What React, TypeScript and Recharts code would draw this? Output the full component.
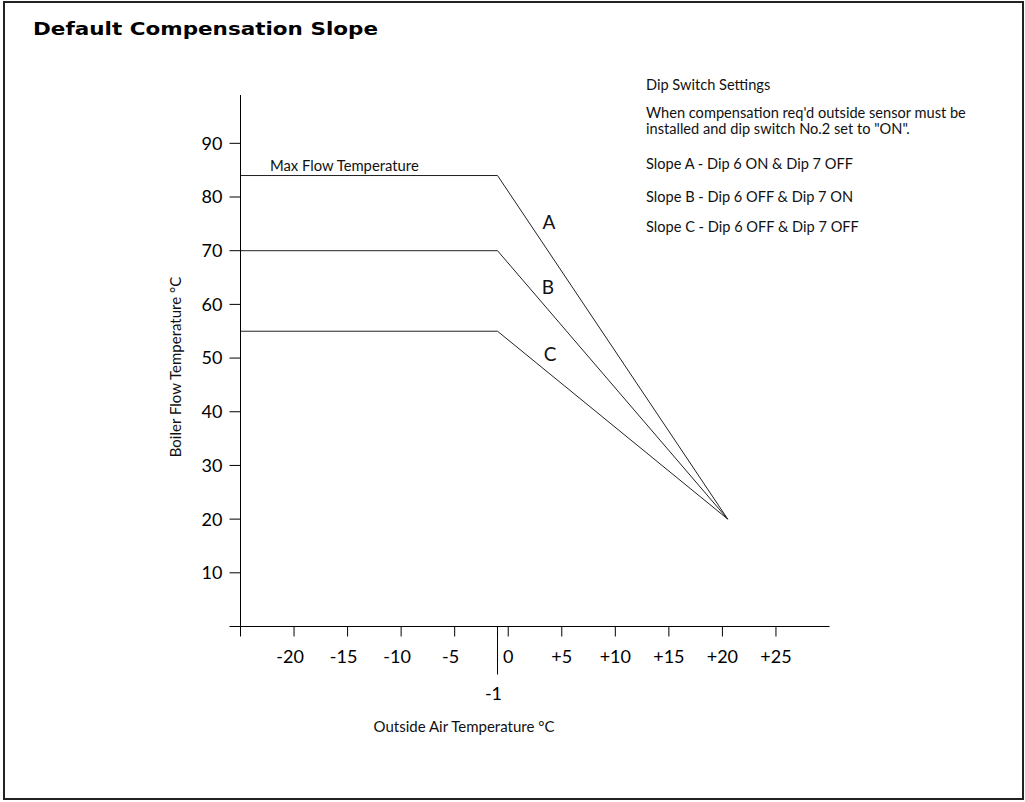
import { LineChart, Line, XAxis, YAxis } from "recharts";

const outsideAirTemps = [-25, -1, 20.5];
const slopeA = [84, 84, 20];
const slopeB = [70, 70, 20];
const slopeC = [55, 55, 20];

const xTicks = [-25, -20, -15, -10, -5, -1, 0, 5, 10, 15, 20, 25];
const yTicks = [0, 10, 20, 30, 40, 50, 60, 70, 80, 90];

const dipNotes = [
  "Dip Switch Settings",
  "When compensation req'd outside sensor must be",
  "installed and dip switch No.2 set to \"ON\".",
  "Slope A - Dip 6 ON & Dip 7 OFF",
  "Slope B - Dip 6 OFF & Dip 7 ON",
  "Slope C - Dip 6 OFF & Dip 7 OFF",
];
const dipNoteBaselines = [90, 118, 134, 169, 202, 232];

const slopeData = outsideAirTemps.map((t, i) => ({
  t,
  A: slopeA[i],
  B: slopeB[i],
  C: slopeC[i],
}));

const FONT = "Lato, 'Open Sans', sans-serif";

const fmtOutside = (v: number) => {
  if (v === -25) return "";
  if (v > 0) return `+${v}`;
  return `${v}`;
};

const OutsideTick = (props: any) => {
  const { x, y, payload } = props;
  const v = payload.value as number;
  if (v === -1) {
    return (
      <g>
        <line x1={x} y1={y - 10} x2={x} y2={y + 38} stroke="#000" strokeWidth={1} />
        <text x={x} y={y + 63} dx={-4} textAnchor="middle" fontSize={18} fontFamily={FONT} fill="#000">
          -1
        </text>
      </g>
    );
  }
  return (
    <text x={x} y={y + 26} dx={v < 0 ? -4 : 0} textAnchor="middle" fontSize={18} fontFamily={FONT} fill="#000">
      {fmtOutside(v)}
    </text>
  );
};

export default function App() {
  return (
    <div style={{ position: "absolute", left: 0, top: 0, width: 1025, height: 802, background: "#fff" }}>
      <LineChart
        width={1025}
        height={802}
        data={slopeData}
        margin={{ top: 95, right: 195.5, bottom: 145.5, left: 180.5 }}
      >
        <XAxis
          dataKey="t"
          type="number"
          domain={[-25, 30]}
          ticks={xTicks}
          interval={0}
          height={30}
          tickSize={10}
          tickMargin={0}
          tick={<OutsideTick />}
          axisLine={{ stroke: "#000" }}
          tickLine={{ stroke: "#000" }}
        />
        <YAxis
          type="number"
          domain={[0, 99]}
          ticks={yTicks}
          interval={0}
          width={60}
          tickSize={11}
          tickMargin={7}
          tickFormatter={(v: number) => (v === 0 ? "" : `${v}`)}
          tick={{ fontSize: 18, fill: "#000", fontFamily: FONT }}
          axisLine={{ stroke: "#000" }}
          tickLine={{ stroke: "#000" }}
        />
        <Line type="linear" dataKey="A" stroke="#222" strokeWidth={1} dot={false} isAnimationActive={false} />
        <Line type="linear" dataKey="B" stroke="#222" strokeWidth={1} dot={false} isAnimationActive={false} />
        <Line type="linear" dataKey="C" stroke="#222" strokeWidth={1} dot={false} isAnimationActive={false} />
      </LineChart>

      <svg
        width={1025}
        height={802}
        style={{ position: "absolute", left: 0, top: 0, pointerEvents: "none" }}
      >
        <rect x={4} y={2} width={1019} height={797} fill="none" stroke="#222" strokeWidth={2} />
        <text
          x={33}
          y={35}
          fontFamily="'DejaVu Sans', sans-serif"
          fontWeight={900}
          fontSize={17}
          textLength={345}
          lengthAdjust="spacingAndGlyphs"
          fill="#000"
        >
          Default Compensation Slope
        </text>

        {dipNotes.map((line, i) => (
          <text key={i} x={646} y={dipNoteBaselines[i]} fontFamily={FONT} fontSize={14.6} fill="#111">
            {line}
          </text>
        ))}

        <text x={270} y={171} fontFamily={FONT} fontSize={14.8} fill="#111">
          Max Flow Temperature
        </text>
        <text x={549} y={229} textAnchor="middle" fontFamily={FONT} fontSize={19} fill="#111">A</text>
        <text x={548} y={294} textAnchor="middle" fontFamily={FONT} fontSize={19} fill="#111">B</text>
        <text x={550} y={361} textAnchor="middle" fontFamily={FONT} fontSize={19} fill="#111">C</text>

        <text
          x={175}
          y={367}
          transform="rotate(-90, 175, 367)"
          textAnchor="middle"
          dominantBaseline="central"
          fontFamily={FONT}
          fontSize={15}
          fill="#111"
        >
          Boiler Flow Temperature °C
        </text>
        <text x={464} y={732} textAnchor="middle" fontFamily={FONT} fontSize={15} fill="#111">
          Outside Air Temperature °C
        </text>
      </svg>
    </div>
  );
}
